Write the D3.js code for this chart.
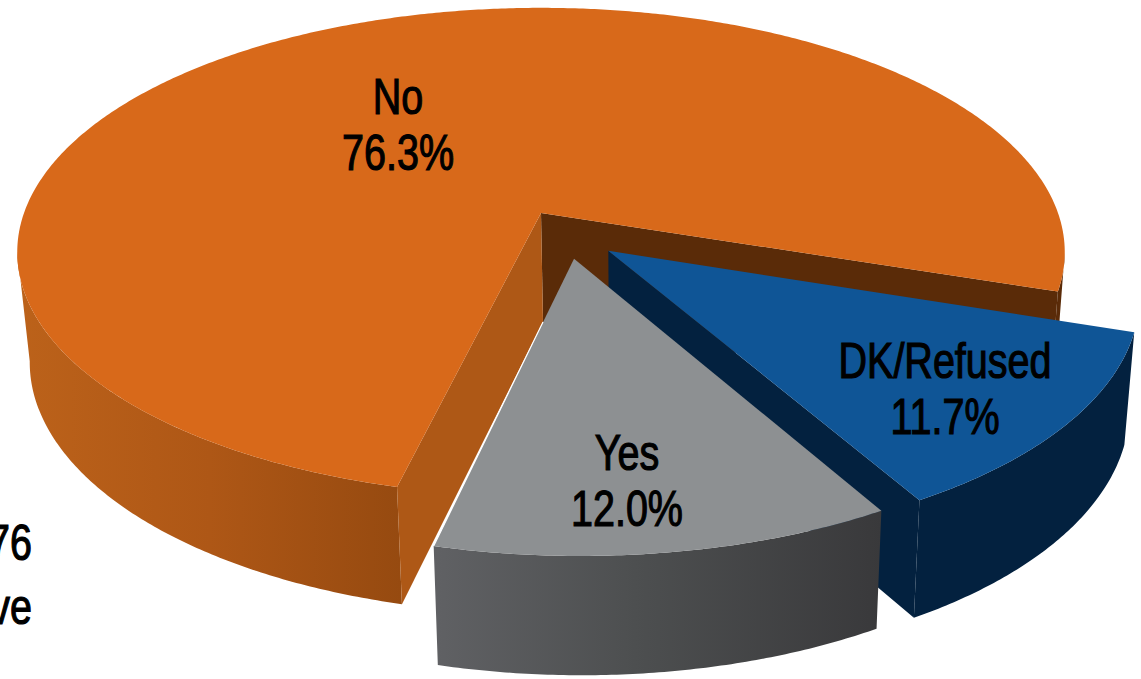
<!DOCTYPE html>
<html>
<head>
<meta charset="utf-8">
<script src="https://cdn.jsdelivr.net/npm/d3@7"></script>
<style>
html,body{margin:0;padding:0;background:#fff;overflow:hidden}
svg{display:block}
text{font-family:"Liberation Sans",Arial,sans-serif;fill:#000;stroke:#000;stroke-width:1.2px;text-anchor:middle}
</style>
</head>
<body>
<svg id="chart" width="1141" height="679"></svg>
<script>
// --- data ---
const categories = ["No", "DK/Refused", "Yes"];
const values = [76.3, 11.7, 12.0];
const valueLabels = ["76.3%", "11.7%", "12.0%"];
const crop = ["76", "ve"];

// --- styling / layout ---
const topColors = ["#D8691A", "#0F5596", "#8D9092"];
const explodeX = [0, 0.127, 0.062];
const explodeY = [0, 0.155, 0.186];
const sliceRadius = [1, 0.985, 0.985];
const labelWorldX = [-0.2963, 0.7034, 0.1418];
const labelWorldY = [-0.4456, 0.624, 0.9208];

const W = 1141, H = 679;
const cx = 541, cy = 213, a = 517, b = 238, k = 0.16;
const deg = Math.PI / 180;
const startAngle = 193.6 * deg; // d3 angle: clockwise from 12 o'clock

const svg = d3.select("#chart");
const defs = svg.append("defs");
function grad(id, stops) {
  const g = defs.append("linearGradient").attr("id", id).attr("x1", 0).attr("x2", 1).attr("y1", 0).attr("y2", 0);
  stops.forEach(s => g.append("stop").attr("offset", s[0]).attr("stop-color", s[1]));
}
grad("orangeWall", [[0, "#BC621A"], [0.5, "#AE5716"], [1, "#964A10"]]);
grad("greyWall", [[0, "#606164"], [0.45, "#4D4F50"], [1, "#39393B"]]);

// perspective projection of the pie plane
const sx = d3.scaleLinear().domain([0, 1]).range([0, a]);
const sy = d3.scaleLinear().domain([0, 1]).range([0, b]);
const botX = d3.scaleLinear().domain([-1000, 1000]).range([543 - 980, 543 + 980]);
function projTop(wx, wy) {
  const d = 1 - k * wy;
  return [cx + sx(wx) / d, cy + sy(wy) / d];
}
function projBot(wx, wy) {
  const d = 1 - k * wy;
  return [botX(sx(wx) / d), cy + 109 + 1.03 * sy(wy) / d];
}

const pie = d3.pie().sort(null).startAngle(startAngle).endAngle(startAngle + 2 * Math.PI);
const arcs = pie(values).map((d, i) => ({
  i,
  t0: d.startAngle - Math.PI / 2,
  t1: d.endAngle - Math.PI / 2,
  ox: explodeX[i], oy: explodeY[i], r: sliceRadius[i]
}));

const line = d3.line();
const pt = (s, t, p) => p(s.ox + s.r * Math.cos(t), s.oy + s.r * Math.sin(t));
const apex = (s, p) => p(s.ox, s.oy);
function rimPts(s, t0, t1, p) {
  const n = Math.max(2, Math.ceil(Math.abs(t1 - t0) / (0.5 * deg)));
  return d3.range(n + 1).map(j => pt(s, t0 + (t1 - t0) * j / n, p));
}
function drawTop(s) {
  svg.append("path").attr("d", line([apex(s, projTop), ...rimPts(s, s.t0, s.t1, projTop)]) + "Z")
    .attr("fill", topColors[s.i]);
}
function drawWall(s, t0, t1, fill) {
  svg.append("path").attr("d", line([...rimPts(s, t0, t1, projTop), ...rimPts(s, t1, t0, projBot)]) + "Z")
    .attr("fill", fill);
}
function drawCut(s, t, fill) {
  svg.append("path").attr("d", line([apex(s, projTop), pt(s, t, projTop), pt(s, t, projBot), apex(s, projBot)]) + "Z")
    .attr("fill", fill);
}

const [no, dk, yes] = arcs;
// No: outer walls, cut faces, top
drawWall(no, no.t1 - 9 * deg, no.t1, "#5A2B08");
drawCut(no, no.t1, "#5A2B08");
drawWall(no, no.t0, 171 * deg, "url(#orangeWall)");
drawCut(no, no.t0, "#AE5816");
drawTop(no);
// DK/Refused
drawCut(dk, dk.t1, "#03213F");
drawWall(dk, dk.t0, dk.t1, "#03213F");
drawTop(dk);
// Yes
drawWall(yes, yes.t0, yes.t1, "url(#greyWall)");
drawTop(yes);
// thin white seam along the Yes edge
svg.append("path")
  .attr("d", line([pt(yes, yes.t1, projTop), apex(no, projBot)]))
  .attr("stroke", "#fff").attr("stroke-width", 1.2).attr("fill", "none");

// labels: Arial-Narrow look = sans condensed horizontally, slightly emboldened
const fs = 50, condense = 0.79, lineGap = 56;
function put(str, x, y, anchor) {
  svg.append("text")
    .attr("transform", `translate(${x},${y}) scale(${condense},1)`)
    .attr("font-size", fs)
    .style("text-anchor", anchor || "middle")
    .text(str);
}
categories.forEach((c, i) => {
  const p = projTop(labelWorldX[i], labelWorldY[i]);
  put(c, p[0], p[1]);
  put(valueLabels[i], p[0], p[1] + lineGap);
});
put(crop[0], 32, 560, "end");
put(crop[1], 32, 624, "end");
</script>
</body>
</html>
